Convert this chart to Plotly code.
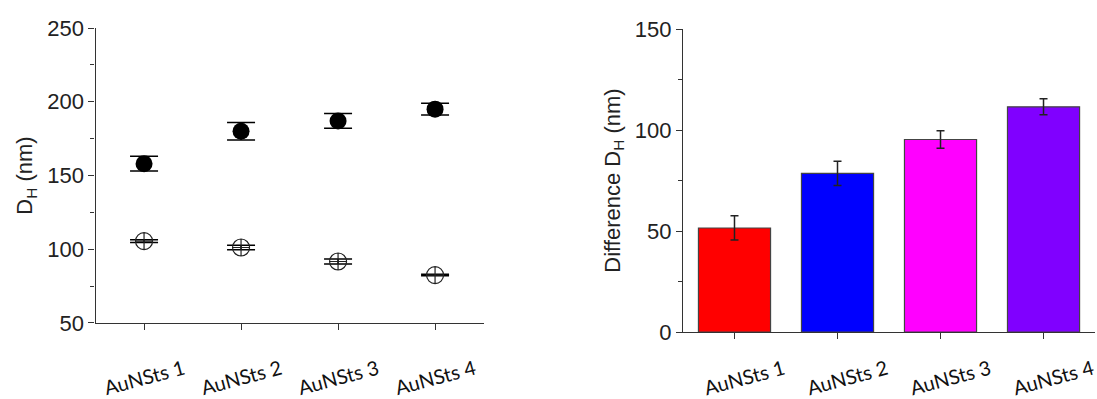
import plotly.graph_objects as go

categories = ["AuNSts 1", "AuNSts 2", "AuNSts 3", "AuNSts 4"]
dh_filled = [158, 180, 187, 195]
dh_filled_err = [5, 6, 5, 4]
dh_open = [105.5, 101.2, 91.7, 82.5]
dh_open_err = [1.0, 1.5, 1.7, 0.5]
diff_values = [51.5, 78.5, 95.3, 111.5]
diff_err = [6, 6, 4.3, 4]
bar_colors = ["#FF0000", "#0000FF", "#FF00FF", "#8000FF"]

AX = "#333333"
TICKFONT = dict(family="Arial, Liberation Sans, sans-serif", size=22, color="#222222")
TITLEFONT = dict(family="Arial, Liberation Sans, sans-serif", size=22, color="#222222")
CATFONT = dict(family="Lato, Open Sans, sans-serif", size=20, color="#111111")

fig = go.Figure()

fig.add_trace(go.Scatter(
    x=categories, y=dh_filled, mode="markers",
    marker=dict(symbol="circle", size=17, color="black"),
    error_y=dict(type="data", array=dh_filled_err, color="black", thickness=1.5, width=14),
    xaxis="x", yaxis="y", showlegend=False))

fig.add_trace(go.Scatter(
    x=categories, y=dh_open, mode="markers",
    marker=dict(symbol="circle-cross-open", size=17, color="#222222", line=dict(width=1.2)),
    error_y=dict(type="data", array=dh_open_err, color="black", thickness=1.5, width=14),
    xaxis="x", yaxis="y", showlegend=False))

fig.add_trace(go.Bar(
    x=categories, y=diff_values, width=0.7,
    marker=dict(color=bar_colors, line=dict(color="#444444", width=1.2)),
    error_y=dict(type="data", array=diff_err, color="#222222", thickness=1.5, width=4),
    xaxis="x2", yaxis="y2", showlegend=False))

common_x = dict(
    type="category", range=[-0.5, 3.5], showline=True, linecolor=AX, linewidth=1.2,
    ticks="outside", ticklen=6, tickcolor=AX, showticklabels=False,
    showgrid=False, zeroline=False, automargin=False)
common_y = dict(
    showline=True, linecolor=AX, linewidth=1.2, ticks="outside", ticklen=6,
    tickcolor=AX, tickfont=TICKFONT, showgrid=False, zeroline=False, automargin=False,
    minor=dict(ticks="outside", ticklen=4, tickcolor=AX, showgrid=False, dtick=25))

fig.update_layout(
    width=1097, height=399, margin=dict(l=0, r=0, t=0, b=0, autoexpand=False),
    plot_bgcolor="white", paper_bgcolor="white",
    xaxis=dict(domain=[0.0871, 0.4408], anchor="y", **common_x),
    yaxis=dict(domain=[0.1905, 0.9298], anchor="x", range=[50, 250], dtick=50,
               title=dict(text="D<sub>H</sub> (nm)", font=TITLEFONT, standoff=8), **common_y),
    xaxis2=dict(domain=[0.6226, 0.9982], anchor="y2", **common_x),
    yaxis2=dict(domain=[0.1679, 0.9273], anchor="x2", range=[0, 150], dtick=50,
                title=dict(text="Difference D<sub>H</sub> (nm)", font=TITLEFONT, standoff=8), **common_y),
)

for c in categories:
    fig.add_annotation(x=c, y=0.055, xref="x", yref="paper", text=c, showarrow=False,
                       textangle=-15, font=CATFONT, xanchor="center", yanchor="middle")
    fig.add_annotation(x=c, y=0.055, xref="x2", yref="paper", text=c, showarrow=False,
                       textangle=-15, font=CATFONT, xanchor="center", yanchor="middle", xshift=10)

fig.write_html("out.html")
